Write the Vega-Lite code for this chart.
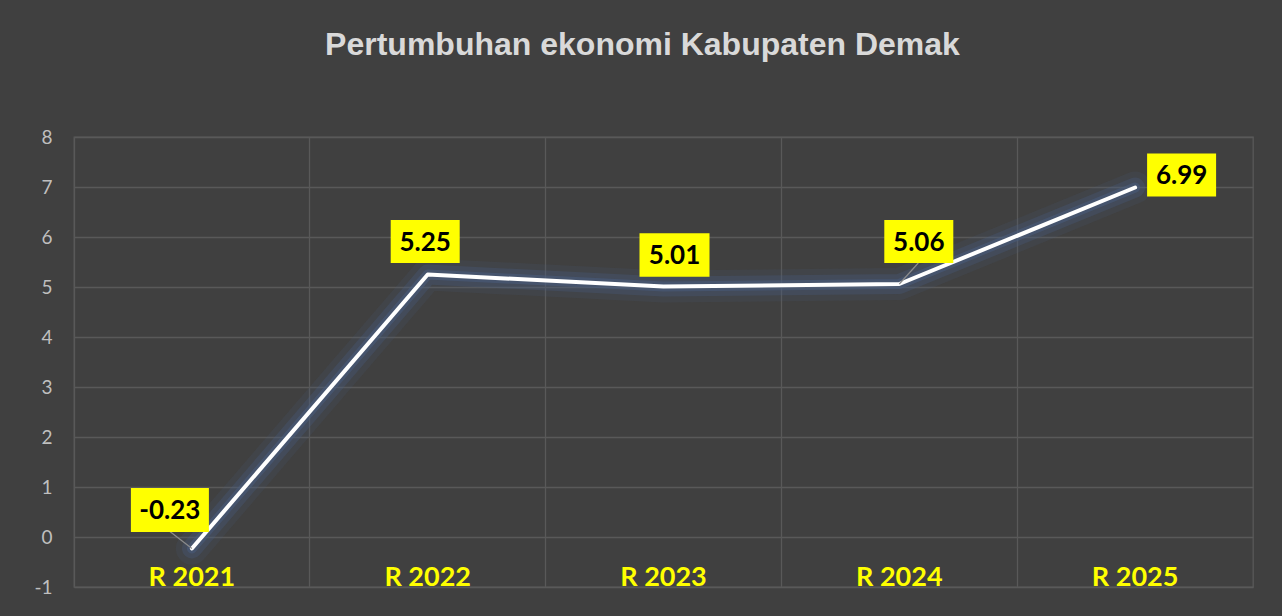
{
  "$schema": "https://vega.github.io/schema/vega-lite/v6.json",
  "autosize": {"type": "none"},
  "width": 1179,
  "height": 450,
  "padding": {"left": 74, "top": 137, "right": 29, "bottom": 29},
  "background": "#404040",
  "config": {
    "view": {"stroke": "#595959", "strokeWidth": 1.3},
    "font": "Lato",
    "locale": {"number": {"decimal": ".", "thousands": ",", "grouping": [3], "currency": ["", ""], "minus": "-"}}
  },
  "title": {
    "text": "Pertumbuhan ekonomi Kabupaten Demak",
    "font": "Liberation Sans",
    "fontSize": 32,
    "fontWeight": "bold",
    "color": "#d9d9d9",
    "anchor": "middle",
    "dx": -21,
    "offset": 66
  },
  "data": {
    "values": [
      {"year": "R 2021", "growth": -0.23},
      {"year": "R 2022", "growth": 5.25},
      {"year": "R 2023", "growth": 5.01},
      {"year": "R 2024", "growth": 5.06},
      {"year": "R 2025", "growth": 6.99}
    ]
  },
  "encoding": {
    "x": {
      "field": "year",
      "type": "nominal",
      "bandPosition": 0.5,
      "scale": {"type": "band", "paddingInner": 0, "paddingOuter": 0},
      "axis": {
        "title": null,
        "bandPosition": 0,
        "labelAngle": 0,
        "labelFont": "Lato",
        "labelFontWeight": "bold",
        "labelFontSize": 27,
        "labelColor": "#ffff00",
        "labelBaseline": "middle",
        "labelPadding": -10,
        "ticks": false,
        "domain": false,
        "grid": true,
        "gridColor": "#595959",
        "gridWidth": 1.3
      }
    },
    "y": {
      "field": "growth",
      "type": "quantitative",
      "scale": {"domain": [-1, 8], "nice": false},
      "axis": {
        "title": null,
        "values": [-1, 0, 1, 2, 3, 4, 5, 6, 7, 8],
        "labelFont": "Lato",
        "labelFontSize": 19,
        "labelColor": "#bfbfbf",
        "labelPadding": 22,
        "ticks": false,
        "domain": false,
        "grid": true,
        "gridColor": "#595959",
        "gridWidth": 1.3
      }
    }
  },
  "layer": [
    {"mark": {"type": "line", "color": "#4a5d80", "strokeWidth": 32, "opacity": 0.15, "strokeJoin": "round", "strokeCap": "round"}},
    {"mark": {"type": "line", "color": "#4a5d80", "strokeWidth": 20, "opacity": 0.3, "strokeJoin": "round", "strokeCap": "round"}},
    {"mark": {"type": "line", "color": "#4a5d80", "strokeWidth": 10, "opacity": 0.5, "strokeJoin": "round", "strokeCap": "round"}},
    {"mark": {"type": "line", "color": "#ffffff", "strokeWidth": 4, "strokeJoin": "round", "strokeCap": "round"}},
    {
      "transform": [{"filter": "datum.year == 'R 2021'"}],
      "layer": [
        {"mark": {"type": "rule", "color": "#8c8c8c", "strokeWidth": 1.2, "x2Offset": -22, "y2Offset": -17},
         "encoding": {"x2": {"field": "year", "bandPosition": 0.5}, "y2": {"field": "growth"}}},
        {"mark": {"type": "point", "shape": "M-1,-0.564H1V0.564H-1Z", "size": 6084, "filled": true, "color": "#ffff00", "opacity": 1, "xOffset": -22, "yOffset": -38.5}},
        {"mark": {"type": "text", "font": "Lato", "fontWeight": "bold", "fontSize": 26, "color": "#000000", "baseline": "middle", "align": "center", "xOffset": -22, "yOffset": -37.5},
         "encoding": {"text": {"field": "growth", "type": "quantitative", "format": ".2f"}}}
      ]
    },
    {
      "transform": [{"filter": "datum.year == 'R 2022'"}],
      "layer": [
        {"mark": {"type": "point", "shape": "M-1,-0.623H1V0.623H-1Z", "size": 4761, "filled": true, "color": "#ffff00", "opacity": 1, "xOffset": -2.5, "yOffset": -33}},
        {"mark": {"type": "text", "font": "Lato", "fontWeight": "bold", "fontSize": 26, "color": "#000000", "baseline": "middle", "align": "center", "xOffset": -2.5, "yOffset": -32}}
      ],
      "encoding": {"text": {"field": "growth", "type": "quantitative", "format": ".2f"}}
    },
    {
      "transform": [{"filter": "datum.year == 'R 2023'"}],
      "layer": [
        {"mark": {"type": "point", "shape": "M-1,-0.623H1V0.623H-1Z", "size": 4900, "filled": true, "color": "#ffff00", "opacity": 1, "xOffset": 11, "yOffset": -31.5}},
        {"mark": {"type": "text", "font": "Lato", "fontWeight": "bold", "fontSize": 26, "color": "#000000", "baseline": "middle", "align": "center", "xOffset": 11, "yOffset": -30.5}}
      ],
      "encoding": {"text": {"field": "growth", "type": "quantitative", "format": ".2f"}}
    },
    {
      "transform": [{"filter": "datum.year == 'R 2024'"}],
      "layer": [
        {"mark": {"type": "rule", "color": "#8c8c8c", "strokeWidth": 1.2, "x2Offset": 19, "y2Offset": -21},
         "encoding": {"x2": {"field": "year", "bandPosition": 0.5}, "y2": {"field": "growth"}}},
        {"mark": {"type": "point", "shape": "M-1,-0.623H1V0.623H-1Z", "size": 4761, "filled": true, "color": "#ffff00", "opacity": 1, "xOffset": 19.5, "yOffset": -42.5}},
        {"mark": {"type": "text", "font": "Lato", "fontWeight": "bold", "fontSize": 26, "color": "#000000", "baseline": "middle", "align": "center", "xOffset": 19.5, "yOffset": -41.5},
         "encoding": {"text": {"field": "growth", "type": "quantitative", "format": ".2f"}}}
      ]
    },
    {
      "transform": [{"filter": "datum.year == 'R 2025'"}],
      "layer": [
        {"mark": {"type": "point", "shape": "M-1,-0.623H1V0.623H-1Z", "size": 4761, "filled": true, "color": "#ffff00", "opacity": 1, "xOffset": 46.5, "yOffset": -12.5}},
        {"mark": {"type": "text", "font": "Lato", "fontWeight": "bold", "fontSize": 26, "color": "#000000", "baseline": "middle", "align": "center", "xOffset": 46.5, "yOffset": -11.5}}
      ],
      "encoding": {"text": {"field": "growth", "type": "quantitative", "format": ".2f"}}
    }
  ]
}
